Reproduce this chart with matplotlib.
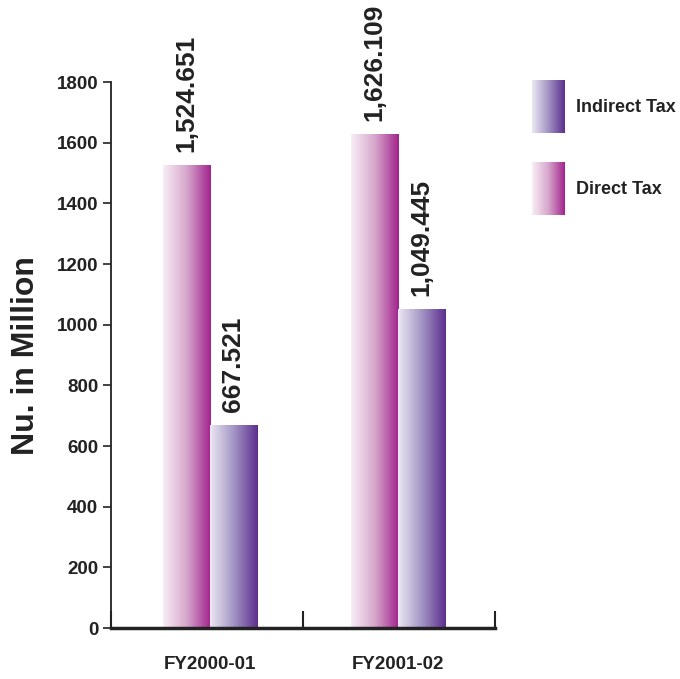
import matplotlib
matplotlib.use("Agg")
import matplotlib.pyplot as plt
import numpy as np
from matplotlib.colors import LinearSegmentedColormap

categories = ["FY2000-01", "FY2001-02"]
direct_tax = [1524.651, 1626.109]
indirect_tax = [667.521, 1049.445]
yticks = [0, 200, 400, 600, 800, 1000, 1200, 1400, 1600, 1800]

FONT = ["Liberation Sans", "DejaVu Sans"]

cm_direct = LinearSegmentedColormap.from_list("d", ["#f8eef6", "#d6a6cb", "#a2238c"])
cm_indirect = LinearSegmentedColormap.from_list("i", ["#ece8f3", "#a394c4", "#5c2f8e"])
grad = np.linspace(0, 1, 256).reshape(1, -1)

fig = plt.figure(figsize=(6.8, 6.79), dpi=100)
ax = fig.add_axes([0.163, 0.075, 0.565, 0.804])

x = np.arange(len(categories))
w = 0.25


def gradient_bars(xs, vals, cmap):
    bars = ax.bar(xs, vals, w, color="none", edgecolor="none")
    for b in bars:
        x0, y0 = b.get_x(), b.get_y()
        ax.imshow(grad, cmap=cmap, aspect="auto", zorder=1,
                  extent=[x0, x0 + b.get_width(), y0, y0 + b.get_height()])
    return bars


gradient_bars(x - w / 2, direct_tax, cm_direct)
gradient_bars(x + w / 2, indirect_tax, cm_indirect)

for xs, vals in [(x - w / 2, direct_tax), (x + w / 2, indirect_tax)]:
    for xi, v in zip(xs, vals):
        ax.annotate(f"{v:,.3f}", (xi, v), xytext=(0, 10),
                    textcoords="offset points", rotation=90, ha="center",
                    va="bottom", fontsize=19, fontweight="bold", family=FONT,
                    color="#222222")

xlo, xhi = -0.527, 1.516
ax.set_xlim(xlo, xhi)
ax.set_ylim(0, 1800)
ax.set_yticks(yticks)
ax.set_yticklabels([str(t) for t in yticks], family=FONT, fontsize=13.5,
                   fontweight="bold", color="#222222")
ax.set_xticks(x)
ax.set_xticklabels(categories, family=FONT, fontsize=13.5, fontweight="bold",
                   color="#222222")
ax.set_xticks([xlo, 0.495, xhi], minor=True)
ax.tick_params(axis="x", which="major", length=0, pad=20)
ax.tick_params(axis="x", which="minor", direction="in", length=12, width=1.5,
               color="#222222")
ax.tick_params(axis="y", direction="out", length=6, width=1.2, pad=3,
               color="#222222")

for s in ["top", "right"]:
    ax.spines[s].set_visible(False)
ax.spines["left"].set_linewidth(1.3)
ax.spines["bottom"].set_linewidth(2.5)
ax.spines["left"].set_color("#222222")
ax.spines["bottom"].set_color("#222222")

fig.text(0.038, 0.477, "Nu. in Million", rotation=90, ha="center", va="center",
         fontsize=23, fontweight="bold", family=FONT, color="#222222")

# legend with gradient swatches
for i, (label, cmap) in enumerate([("Indirect Tax", cm_indirect),
                                   ("Direct Tax", cm_direct)]):
    top = 80 + i * 82
    lax = fig.add_axes([532 / 680, 1 - (top + 53) / 679, 33 / 680, 53 / 679])
    lax.imshow(grad, cmap=cmap, aspect="auto")
    lax.axis("off")
    fig.text(576 / 680, 1 - (top + 28) / 679, label, ha="left", va="center",
             fontsize=13, fontweight="bold", family=FONT, color="#222222")

fig.savefig("out.png", dpi=100)
